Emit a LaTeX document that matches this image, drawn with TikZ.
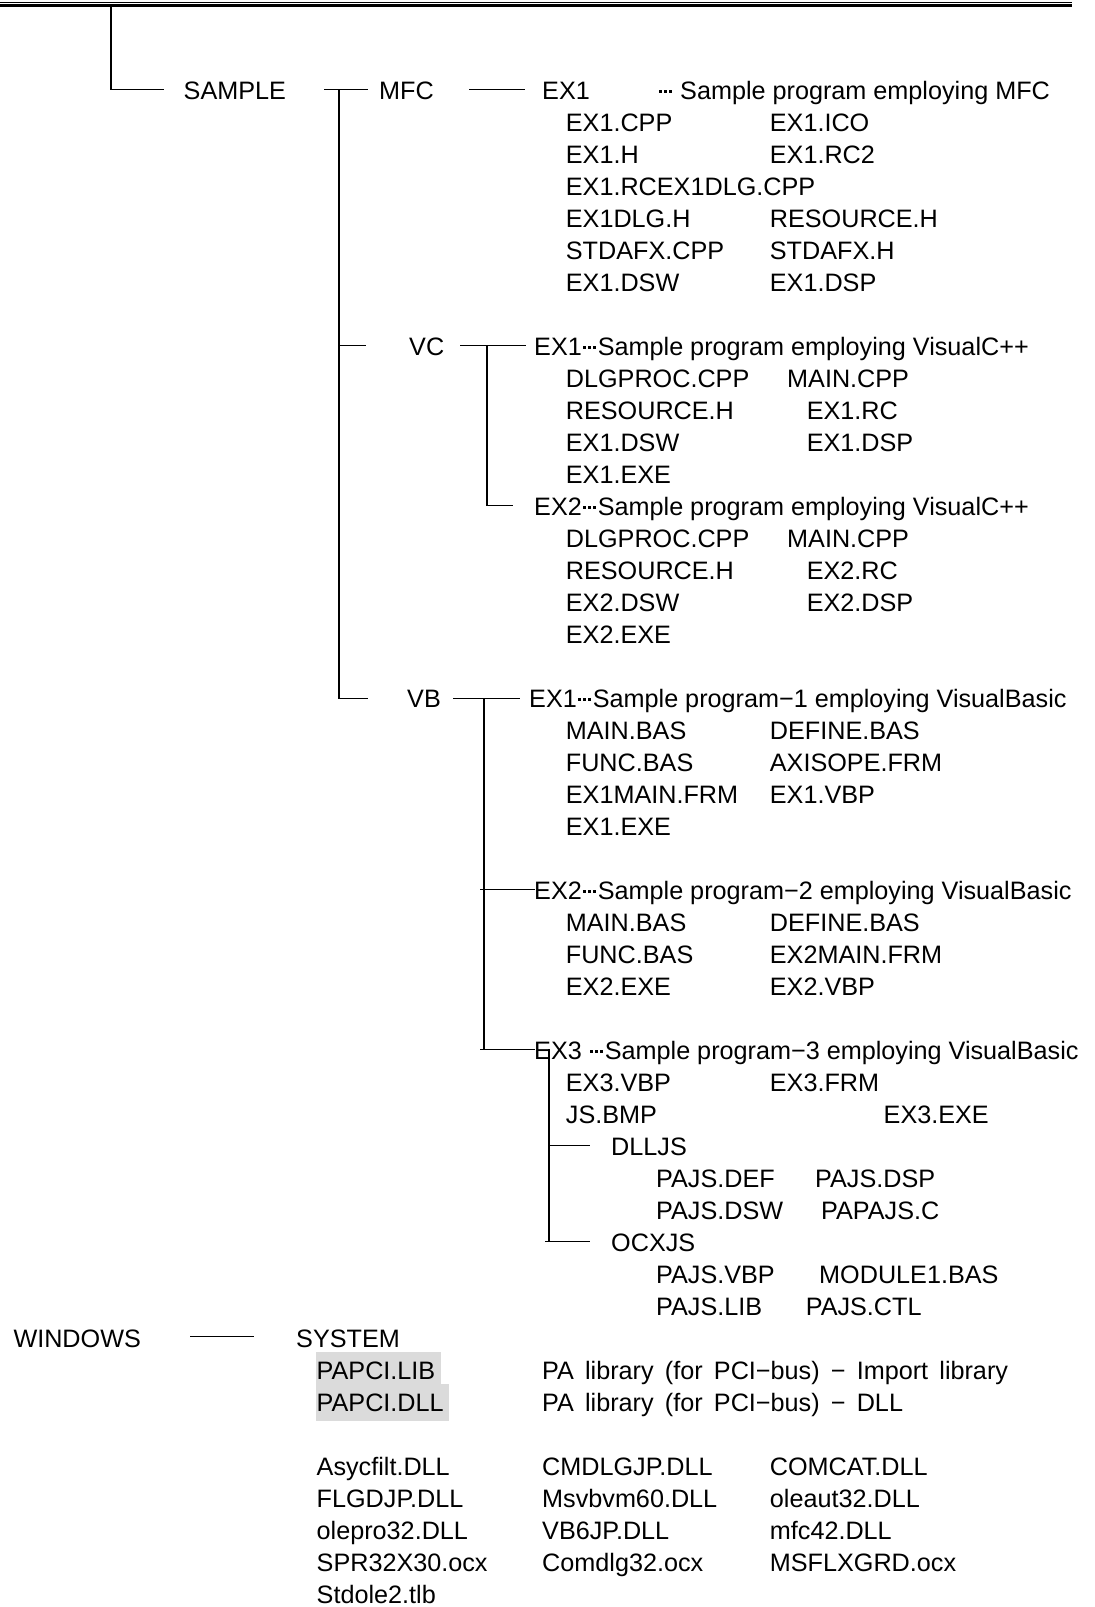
\documentclass[tikz,border=0pt]{standalone}
\usepackage{fontspec}
\setmainfont{Liberation Sans}
\newcommand\dotbit{\raisebox{7.2pt}{\rule{2.7pt}{2.7pt}}}
\newcommand\dotsx{\hbox to 16pt{\hss\dotbit\kern2.3pt\dotbit\kern2.3pt\dotbit\hss}}
\newcommand\wsp{\spaceskip=11.2pt\relax}
\newcommand\Tx[4]{\node[txt] (#1) at (#2,{99.7+32*#3}) {#4};}
\begin{document}
\begin{tikzpicture}[x=1pt,y=-1pt,
  txt/.style={anchor=base west, inner sep=0pt, font=\fontsize{25.2}{30}\selectfont},
  ln/.style={line width=1.3pt, line cap=rect},
  hl/.style={fill=black!14, draw=none}]
\useasboundingbox (0,0) rectangle (1095,1607);
% top rule
\draw[line width=1pt] (0,2.3) -- (1072,2.3);
\draw[line width=2.6pt] (0,5.7) -- (1072,5.7);
% highlight boxes
\fill[hl] (316,1352) rectangle (441,1384);
\fill[hl] (316,1384) rectangle (449,1421);
% ---- texts
\Tx{sample}{183.5}{0}{SAMPLE}
\Tx{mfc}{379}{0}{MFC}
\Tx{mfcex1}{542}{0}{EX1}
\Tx{mfcdesc}{657}{0}{\dotsx\hspace{7pt}Sample program employing MFC}
\Tx{m1a}{565.7}{1}{EX1.CPP}\Tx{m1b}{769.7}{1}{EX1.ICO}
\Tx{m2a}{565.7}{2}{EX1.H}\Tx{m2b}{769.7}{2}{EX1.RC2}
\Tx{m3a}{565.7}{3}{EX1.RCEX1DLG.CPP}
\Tx{m4a}{565.7}{4}{EX1DLG.H}\Tx{m4b}{769.7}{4}{RESOURCE.H}
\Tx{m5a}{565.7}{5}{STDAFX.CPP}\Tx{m5b}{769.7}{5}{STDAFX.H}
\Tx{m6a}{565.7}{6}{EX1.DSW}\Tx{m6b}{769.7}{6}{EX1.DSP}
%
\Tx{vc}{409}{8}{VC}
\Tx{vcex1}{534}{8}{EX1\dotsx Sample program employing VisualC++}
\Tx{c9a}{565.7}{9}{DLGPROC.CPP}\Tx{c9b}{787}{9}{MAIN.CPP}
\Tx{c10a}{565.7}{10}{RESOURCE.H}\Tx{c10b}{806.6}{10}{EX1.RC}
\Tx{c11a}{565.7}{11}{EX1.DSW}\Tx{c11b}{806.6}{11}{EX1.DSP}
\Tx{c12a}{565.7}{12}{EX1.EXE}
\Tx{vcex2}{534}{13}{EX2\dotsx Sample program employing VisualC++}
\Tx{c14a}{565.7}{14}{DLGPROC.CPP}\Tx{c14b}{787}{14}{MAIN.CPP}
\Tx{c15a}{565.7}{15}{RESOURCE.H}\Tx{c15b}{806.6}{15}{EX2.RC}
\Tx{c16a}{565.7}{16}{EX2.DSW}\Tx{c16b}{806.6}{16}{EX2.DSP}
\Tx{c17a}{565.7}{17}{EX2.EXE}
%
\Tx{vb}{407}{19}{VB}
\Tx{vbex1}{529}{19}{EX1\dotsx Sample program−1 employing VisualBasic}
\Tx{b20a}{565.7}{20}{MAIN.BAS}\Tx{b20b}{769.7}{20}{DEFINE.BAS}
\Tx{b21a}{565.7}{21}{FUNC.BAS}\Tx{b21b}{769.7}{21}{AXISOPE.FRM}
\Tx{b22a}{565.7}{22}{EX1MAIN.FRM}\Tx{b22b}{769.7}{22}{EX1.VBP}
\Tx{b23a}{565.7}{23}{EX1.EXE}
\Tx{vbex2}{534}{25}{EX2\dotsx Sample program−2 employing VisualBasic}
\Tx{b26a}{565.7}{26}{MAIN.BAS}\Tx{b26b}{769.7}{26}{DEFINE.BAS}
\Tx{b27a}{565.7}{27}{FUNC.BAS}\Tx{b27b}{769.7}{27}{EX2MAIN.FRM}
\Tx{b28a}{565.7}{28}{EX2.EXE}\Tx{b28b}{769.7}{28}{EX2.VBP}
\Tx{vbex3}{534}{30}{EX3 \dotsx Sample program−3 employing VisualBasic}
\Tx{b31a}{565.7}{31}{EX3.VBP}\Tx{b31b}{769.7}{31}{EX3.FRM}
\Tx{b32a}{565.7}{32}{JS.BMP}\Tx{b32b}{883.5}{32}{EX3.EXE}
\Tx{dlljs}{611}{33}{DLLJS}
\Tx{d34a}{656}{34}{PAJS.DEF}\Tx{d34b}{815}{34}{PAJS.DSP}
\Tx{d35a}{656}{35}{PAJS.DSW}\Tx{d35b}{821}{35}{PAPAJS.C}
\Tx{ocxjs}{611}{36}{OCXJS}
\Tx{o37a}{656}{37}{PAJS.VBP}\Tx{o37b}{819}{37}{MODULE1.BAS}
\Tx{o38a}{656}{38}{PAJS.LIB}\Tx{o38b}{805.6}{38}{PAJS.CTL}
%
\Tx{windows}{13.3}{39}{WINDOWS}
\Tx{system}{296}{39}{SYSTEM}
\Tx{s40a}{316.5}{40}{PAPCI.LIB}
\Tx{s40b}{542}{40}{\wsp PA library (for PCI−bus) − Import library}
\Tx{s41a}{316.5}{41}{PAPCI.DLL}
\Tx{s41b}{542}{41}{\wsp PA library (for PCI−bus) − DLL}
\Tx{s43a}{316.5}{43}{Asycfilt.DLL}\Tx{s43b}{542}{43}{CMDLGJP.DLL}\Tx{s43c}{769.7}{43}{COMCAT.DLL}
\Tx{s44a}{316.5}{44}{FLGDJP.DLL}\Tx{s44b}{542}{44}{Msvbvm60.DLL}\Tx{s44c}{769.7}{44}{oleaut32.DLL}
\Tx{s45a}{316.5}{45}{olepro32.DLL}\Tx{s45b}{542}{45}{VB6JP.DLL}\Tx{s45c}{769.7}{45}{mfc42.DLL}
\Tx{s46a}{316.5}{46}{SPR32X30.ocx}\Tx{s46b}{542}{46}{Comdlg32.ocx}\Tx{s46c}{769.7}{46}{MSFLXGRD.ocx}
\Tx{s47a}{316.5}{47}{Stdole2.tlb}
% ---- tree coordinates
\coordinate (r0) at (111,8);
\coordinate (r1) at (111,89.7);
\coordinate (r2) at (163,89.7);
\coordinate (sa1) at (325,89.7);
\coordinate (sa2) at (367,89.7);
\coordinate (sj0) at (339,89.7);
\coordinate (sj8) at (339,345.7);
\coordinate (sj8e) at (365,345.7);
\coordinate (sj19) at (339,698.7);
\coordinate (sj19e) at (367,698.7);
\coordinate (mf1) at (470,89.7);
\coordinate (mf2) at (524,89.7);
\coordinate (vc1) at (461,345.7);
\coordinate (vc2) at (525,345.7);
\coordinate (vcj) at (487,345.7);
\coordinate (vcj2) at (487,505.7);
\coordinate (vcj2e) at (512,505.7);
\coordinate (vb1) at (454,698.7);
\coordinate (vb2) at (519,698.7);
\coordinate (vbj) at (484,698.7);
\coordinate (vbj25s) at (481,889.7);
\coordinate (vbj25e) at (534,889.7);
\coordinate (vbj30) at (484,1049.7);
\coordinate (vbj30s) at (481,1049.7);
\coordinate (vbj30e) at (534,1049.7);
\coordinate (e3t) at (549,1049.7);
\coordinate (e3d) at (549,1145.7);
\coordinate (e3de) at (589,1145.7);
\coordinate (e3o) at (549,1241.7);
\coordinate (e3os) at (546,1241.7);
\coordinate (e3oe) at (589,1241.7);
\coordinate (w1) at (190.6,1336.5);
\coordinate (w2) at (253,1336.5);
% ---- connectors
\draw[ln] (r0) -- (r1) -- (r2);
\draw[ln] (sa1) -- (sa2);
\draw[ln] (sj0) -- (sj19) -- (sj19e);
\draw[ln] (sj8) -- (sj8e);
\draw[ln] (mf1) -- (mf2);
\draw[ln] (vc1) -- (vc2);
\draw[ln] (vcj) -- (vcj2) -- (vcj2e);
\draw[ln] (vb1) -- (vb2);
\draw[ln] (vbj) -- (vbj30);
\draw[ln] (vbj25s) -- (vbj25e);
\draw[ln] (vbj30s) -- (vbj30e);
\draw[ln] (e3t) -- (e3o);
\draw[ln] (e3d) -- (e3de);
\draw[ln] (e3os) -- (e3oe);
\draw[ln] (w1) -- (w2);
\end{tikzpicture}
\end{document}
